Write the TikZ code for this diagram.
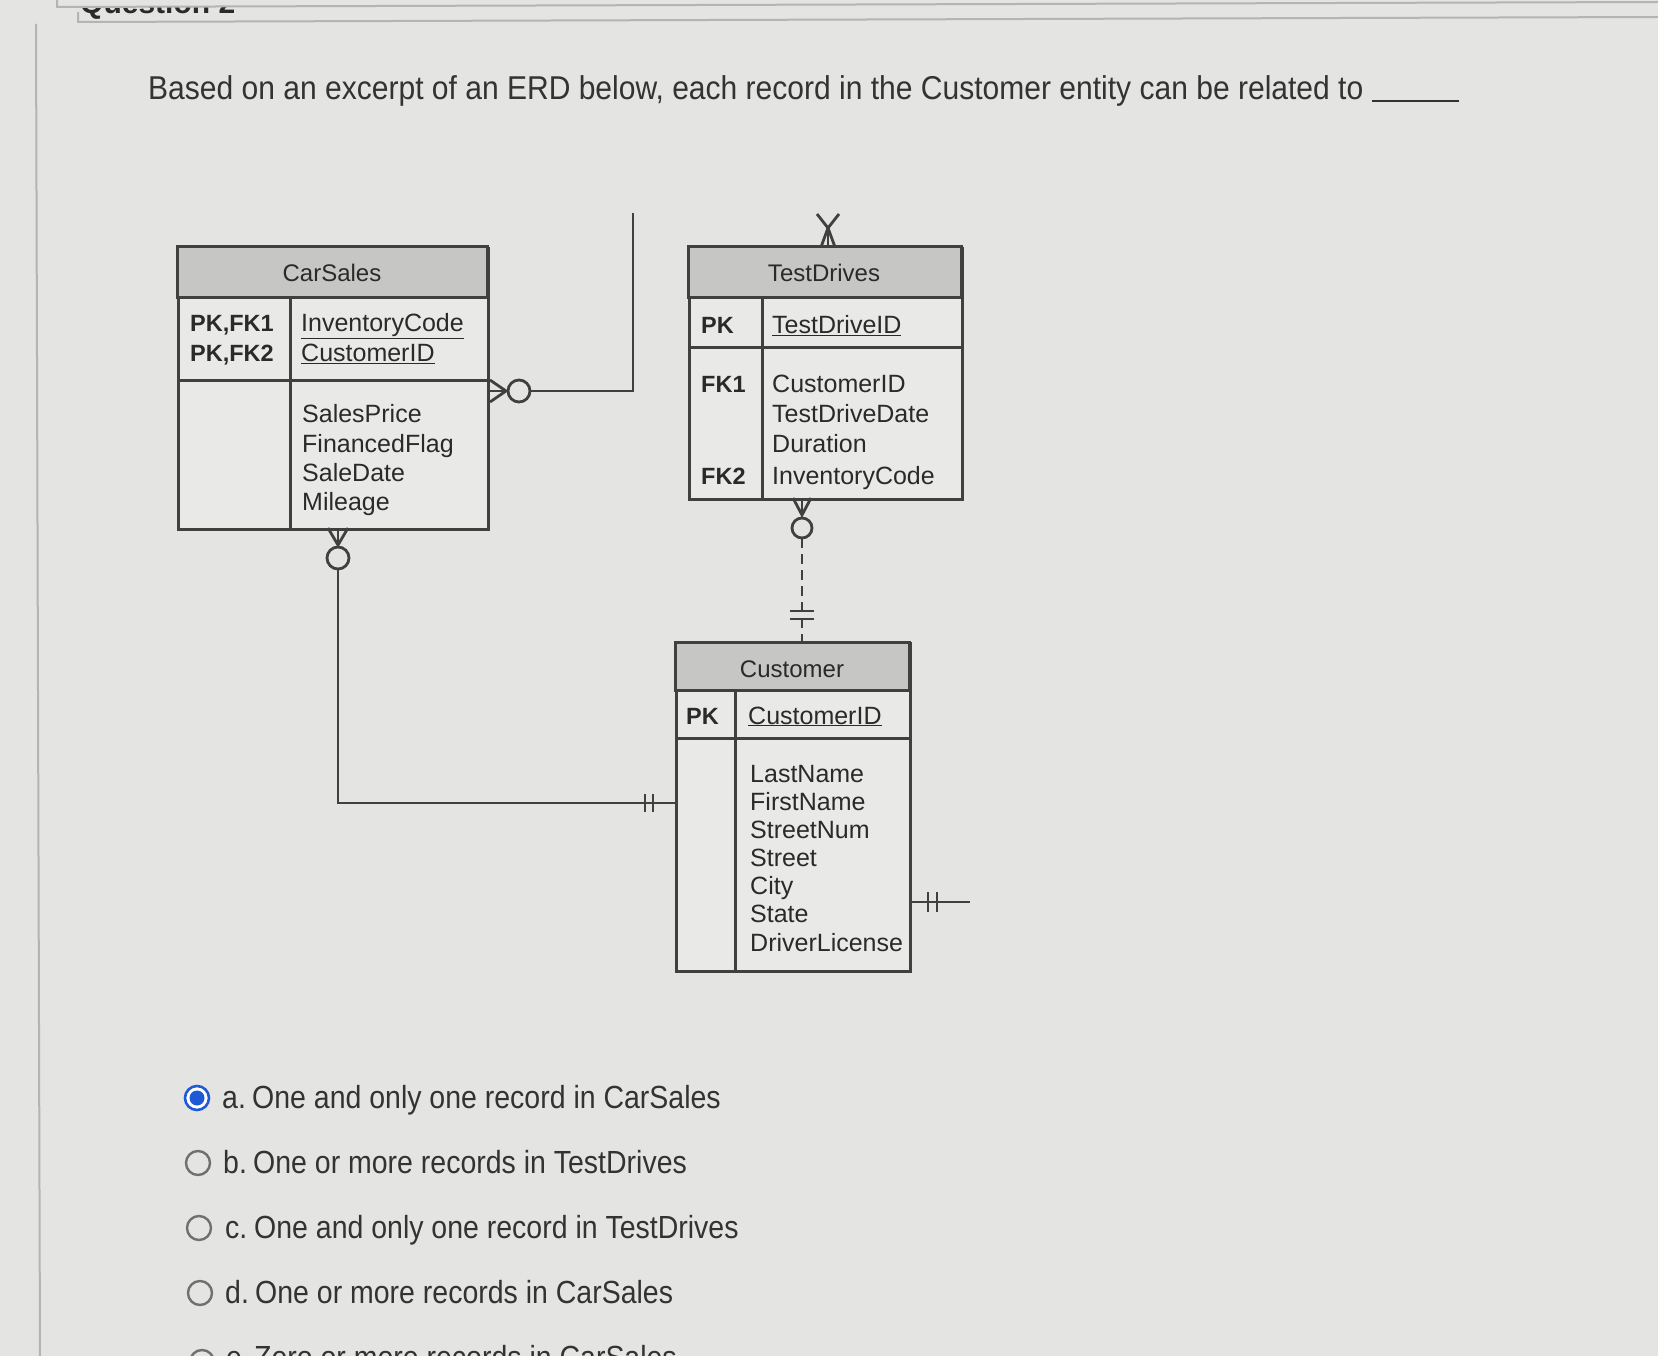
\documentclass[tikz,border=0pt]{standalone}
\usepackage{fontspec}
\setmainfont{Liberation Sans}
\definecolor{bgc}{HTML}{E4E4E2}
\definecolor{lc}{HTML}{404040}
\definecolor{hdrc}{HTML}{C6C6C4}
\definecolor{bodyc}{HTML}{E9E9E7}
\definecolor{tc}{HTML}{2A2A2A}
\definecolor{qc}{HTML}{333333}
\definecolor{frc}{HTML}{B4B4B2}
\definecolor{radc}{HTML}{707070}
\definecolor{bluec}{HTML}{1F5AD6}
\begin{document}
\begin{tikzpicture}[x=1pt,y=-1pt,
  entity/.style={draw=lc, line width=3pt, fill=bodyc, inner sep=0pt, anchor=north west},
  hdrbox/.style={draw=lc, line width=3pt, fill=hdrc},
  inner/.style={draw=lc, line width=3pt},
  cn/.style={draw=lc, line width=2.8pt},
  attr/.style={anchor=base west, inner sep=0pt, font=\fontsize{25}{30}\selectfont, text=tc},
  keyl/.style={anchor=base west, inner sep=0pt, font=\bfseries\fontsize{23.5}{30}\selectfont, text=tc},
  ttl/.style={anchor=base, inner sep=0pt, font=\fontsize{24}{30}\selectfont, text=tc},
  opt/.style={anchor=base west, inner sep=0pt, font=\fontsize{32}{38}\selectfont, text=qc},
  radio/.style={draw=radc, line width=2.4pt, fill=bgc}
]
\useasboundingbox (0,0) rectangle (1658,1356);
\clip (0,0) rectangle (1658,1356);
\fill[bgc] (0,0) rectangle (1658,1356);

% page frame
\draw[frc, line width=2pt] (36,24) -- (40,1356);
\node[anchor=base west, inner sep=0pt, font=\bfseries\fontsize{30}{36}\selectfont, text=tc] (qhead) at (80,14) {Question 2};
\fill[bgc] (57,-5) rectangle (1660,7);
\draw[frc, line width=2pt] (57,0) -- (57,7) -- (1658,2);
\draw[frc, line width=2pt] (78,12) -- (78,22) -- (1658,17);

% question
\node[anchor=base west, inner sep=0pt, font=\fontsize{33}{40}\selectfont, text=qc] (question) at (148,100)
  {\scalebox{0.91}[1]{Based on an excerpt of an ERD below, each record in the Customer entity can be related to}};
\coordinate (blankA) at (1372,101);
\coordinate (blankB) at (1459,101);
\draw[qc, line width=2pt] (blankA) -- (blankB);

% ---------------- CarSales ----------------
\node[entity, minimum width=310pt, minimum height=281pt] (carsales) at (177,247) {};
\draw[hdrbox] (177,247) rectangle (487,298);
\draw[inner] (177,381) -- (487,381);
\draw[inner] (290,298) -- (290,528);
\node[ttl] (csT) at (332,282) {CarSales};
\node[keyl] (csk1) at (190,332) {PK,FK1};
\node[keyl] (csk2) at (190,362) {PK,FK2};
\node[attr] (csa1) at (301,332) {\underline{InventoryCode}};
\node[attr] (csa2) at (301,362) {\underline{CustomerID}};
\node[attr] (csa3) at (302,422) {SalesPrice};
\node[attr] (csa4) at (302,452) {FinancedFlag};
\node[attr] (csa5) at (302,481) {SaleDate};
\node[attr] (csa6) at (302,510) {Mileage};

% ---------------- TestDrives ----------------
\node[entity, minimum width=273pt, minimum height=251pt] (testdrives) at (688,247) {};
\draw[hdrbox] (688,247) rectangle (961,298);
\draw[inner] (688,348) -- (961,348);
\draw[inner] (762,298) -- (762,498);
\node[ttl] (tdT) at (824,282) {TestDrives};
\node[keyl] (tdk1) at (701,334) {PK};
\node[attr] (tda1) at (772,334) {\underline{TestDriveID}};
\node[keyl] (tdk2) at (701,392) {FK1};
\node[attr] (tda2) at (772,392) {CustomerID};
\node[attr] (tda3) at (772,422) {TestDriveDate};
\node[attr] (tda4) at (772,452) {Duration};
\node[keyl] (tdk3) at (701,484) {FK2};
\node[attr] (tda5) at (772,484) {InventoryCode};

% ---------------- Customer ----------------
\node[entity, minimum width=234pt, minimum height=328pt] (customer) at (675,642) {};
\draw[hdrbox] (675,642) rectangle (909,690);
\draw[inner] (675,738) -- (909,738);
\draw[inner] (735,690) -- (735,970);
\node[ttl] (cuT) at (792,677) {Customer};
\node[keyl] (cuk1) at (686,724) {PK};
\node[attr] (cua1) at (748,724) {\underline{CustomerID}};
\node[attr] (cua2) at (750,782) {LastName};
\node[attr] (cua3) at (750,810) {FirstName};
\node[attr] (cua4) at (750,838) {StreetNum};
\node[attr] (cua5) at (750,866) {Street};
\node[attr] (cua6) at (750,894) {City};
\node[attr] (cua7) at (750,922) {State};
\node[attr] (cua8) at (750,951) {DriverLicense};

% ---------------- connectors ----------------
% CarSales (right) -> off-picture (up)
\coordinate (csR) at (carsales.east |- 0,391);
\coordinate (upEnd) at (633,213);
\draw[cn] ([yshift=-11pt]csR) -- (506,391) -- ([yshift=11pt]csR);
\draw[cn] (csR) -- (508,391);
\draw[cn, fill=bgc] (519,391) circle (11pt);
\draw[cn] (530,391) -| (upEnd);

% CarSales (bottom) -> Customer (left)
\coordinate (csB) at (338,528);
\coordinate (cuL) at (customer.west |- 0,803);
\draw[cn] ([xshift=-10pt]csB) -- (338,545) -- ([xshift=10pt]csB);
\draw[cn] (csB) -- (338,547);
\draw[cn, fill=bgc] (338,558) circle (11pt);
\draw[cn] (338,569) |- (cuL);
\draw[cn] (645,794) -- (645,812);
\draw[cn] (653,794) -- (653,812);

% TestDrives (bottom) -> Customer (top), dashed
\coordinate (tdB) at (802,498);
\coordinate (cuTop) at (802,642);
\draw[cn] ([xshift=-9pt]tdB) -- (802,515) -- ([xshift=9pt]tdB);
\draw[cn] (tdB) -- (802,518);
\draw[cn, fill=bgc] (802,528) circle (10pt);
\draw[cn, dash pattern=on 10pt off 6pt] (802,538) -- (cuTop);
\draw[cn] (790,611) -- (814,611);
\draw[cn] (790,619) -- (814,619);

% Customer (right) -> off-picture
\coordinate (cuR) at (customer.east |- 0,902);
\coordinate (rEnd) at (970,902);
\draw[cn] (cuR) -- (rEnd);
\draw[cn] (928,892) -- (928,912);
\draw[cn] (937,892) -- (937,912);

% TestDrives (top)
\coordinate (tdTop) at (828,247);
\draw[cn] (817,214) -- (828,228) -- (821,247);
\draw[cn] (839,214) -- (828,228) -- (835,247);
\draw[cn] (828,228) -- (tdTop);

% ---------------- options ----------------
\draw[draw=bluec, line width=2.6pt, fill=white] (197,1098) circle (12pt);
\fill[bluec] (197,1098) circle (7.5pt);
\node[opt] (la) at (222,1108) {\scalebox{0.89}[1]{a.}};
\node[opt] (oa) at (252,1108) {\scalebox{0.89}[1]{One and only one record in CarSales}};

\draw[radio] (198,1163) circle (12pt);
\node[opt] (lb) at (223,1173) {\scalebox{0.89}[1]{b.}};
\node[opt] (ob) at (253,1173) {\scalebox{0.89}[1]{One or more records in TestDrives}};

\draw[radio] (199,1228) circle (12pt);
\node[opt] (lc) at (225,1238) {\scalebox{0.89}[1]{c.}};
\node[opt] (oc) at (254,1238) {\scalebox{0.89}[1]{One and only one record in TestDrives}};

\draw[radio] (200,1293) circle (12pt);
\node[opt] (ld) at (225,1303) {\scalebox{0.89}[1]{d.}};
\node[opt] (od) at (255,1303) {\scalebox{0.89}[1]{One or more records in CarSales}};

\draw[radio] (202,1362) circle (12pt);
\node[opt] (le) at (226,1368) {\scalebox{0.89}[1]{e.}};
\node[opt] (oe) at (254,1368) {\scalebox{0.89}[1]{Zero or more records in CarSales}};
\end{tikzpicture}
\end{document}
